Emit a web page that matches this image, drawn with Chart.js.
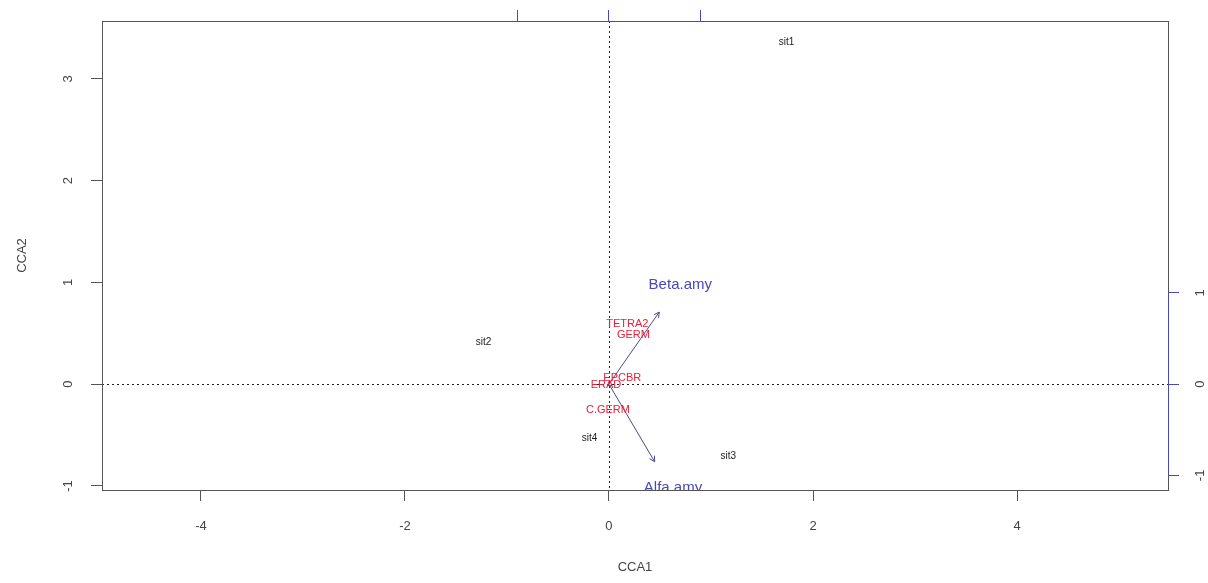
<!DOCTYPE html>
<html lang="en">
<head>
<meta charset="utf-8">
<title>CCA biplot</title>
<script src="https://cdn.jsdelivr.net/npm/chart.js@4.4.1/dist/chart.umd.min.js"></script>
<style>
  html, body { margin: 0; padding: 0; background: #fff; }
</style>
</head>
<body>
<canvas id="chart" width="1208" height="583"></canvas>
<script>
// site scores
const siteNames = ['sit1', 'sit2', 'sit3', 'sit4'];
const siteX = [1.74, -1.23, 1.17, -0.19];
const siteY = [3.36, 0.41, -0.71, -0.53];

// species scores
const speciesNames = ['TETRA2', 'GERM', 'EPCBR', 'ERAD', 'C.GERM'];
const speciesX = [0.18, 0.24, 0.13, -0.03, -0.01];
const speciesY = [0.59, 0.48, 0.06, -0.01, -0.25];

// biplot arrows, on the top / right axes
const envNames = ['Beta.amy', 'Alfa.amy'];
const envX = [0.55, 0.50];
const envY = [0.79, -0.85];
const envLabelX = [0.78, 0.70];
const envLabelY = [1.09, -1.14];

const xTicks = [-4, -2, 0, 2, 4];
const yTicks = [-1, 0, 1, 2, 3];
const arrowTicks = [-1, 0, 1];

const FONT = "'Liberation Sans', Arial, sans-serif";
const BLUE = '#4848bb';

function pts(xs, ys) {
    return xs.map((x, i) => ({ x: x, y: ys[i] }));
}

// fixed axis margins, no extra label padding
function fixSize(prop, size) {
    return s => {
        s[prop] = size;
        s.paddingTop = 0; s.paddingBottom = 0;
        s.paddingLeft = 0; s.paddingRight = 0;
    };
}

const arrowSets = envNames.map((n, i) => ({
    type: 'line',
    label: n,
    data: [{ x: 0, y: 0 }, { x: envX[i], y: envY[i] }],
    xAxisID: 'x2',
    yAxisID: 'y2',
    borderColor: '#4a4a8c',
    borderWidth: 1,
    pointRadius: 0,
    isArrow: true
}));

const biplotPlugin = {
    id: 'biplot',
    beforeDatasetsDraw(chart) {
        const ctx = chart.ctx, a = chart.chartArea;
        const x0 = chart.scales.x.getPixelForValue(0);
        const y0 = chart.scales.y.getPixelForValue(0);
        ctx.save();
        ctx.strokeStyle = '#222';
        ctx.lineWidth = 1;
        ctx.setLineDash([2, 3]);
        ctx.beginPath();
        ctx.moveTo(Math.round(x0) + 0.5, a.top);
        ctx.lineTo(Math.round(x0) + 0.5, a.bottom);
        ctx.moveTo(a.left, Math.round(y0) + 0.5);
        ctx.lineTo(a.right, Math.round(y0) + 0.5);
        ctx.stroke();
        ctx.restore();
    },
    afterDatasetsDraw(chart) {
        const ctx = chart.ctx, a = chart.chartArea;
        ctx.save();
        ctx.beginPath();
        ctx.rect(a.left, a.top, a.right - a.left, a.bottom - a.top);
        ctx.clip();
        ctx.textAlign = 'center';
        ctx.textBaseline = 'middle';
        chart.data.datasets.forEach((ds, i) => {
            const meta = chart.getDatasetMeta(i);
            if (ds.isArrow) {
                const p0 = meta.data[0], p1 = meta.data[1];
                const ang = Math.atan2(p1.y - p0.y, p1.x - p0.x);
                const len = 6;
                ctx.strokeStyle = ds.borderColor;
                ctx.lineWidth = 1;
                ctx.beginPath();
                ctx.moveTo(p1.x - len * Math.cos(ang - 0.5), p1.y - len * Math.sin(ang - 0.5));
                ctx.lineTo(p1.x, p1.y);
                ctx.lineTo(p1.x - len * Math.cos(ang + 0.5), p1.y - len * Math.sin(ang + 0.5));
                ctx.stroke();
            }
            if (ds.names) {
                ctx.fillStyle = ds.textColor;
                ctx.font = ds.textSize + 'px ' + FONT;
                meta.data.forEach((el, j) => ctx.fillText(ds.names[j], el.x, el.y));
            }
        });
        ctx.restore();
    },
    afterDraw(chart) {
        const ctx = chart.ctx, a = chart.chartArea;
        ctx.save();
        ctx.strokeStyle = '#555';
        ctx.lineWidth = 1;
        ctx.strokeRect(Math.round(a.left) + 0.5, Math.round(a.top) + 0.5,
            Math.round(a.right - a.left), Math.round(a.bottom - a.top));
        // partial axis lines of the arrow scales
        const x2 = chart.scales.x2, y2 = chart.scales.y2;
        ctx.strokeStyle = BLUE;
        ctx.beginPath();
        ctx.moveTo(x2.getPixelForValue(arrowTicks[0]), Math.round(a.top) + 0.5);
        ctx.lineTo(x2.getPixelForValue(arrowTicks[arrowTicks.length - 1]), Math.round(a.top) + 0.5);
        ctx.moveTo(Math.round(a.right) + 0.5, y2.getPixelForValue(arrowTicks[0]));
        ctx.lineTo(Math.round(a.right) + 0.5, y2.getPixelForValue(arrowTicks[arrowTicks.length - 1]));
        ctx.stroke();
        ctx.restore();
    }
};

const tickFont = { size: 13, family: FONT };

new Chart(document.getElementById('chart'), {
    type: 'scatter',
    data: {
        datasets: [
            ...arrowSets,
            {
                label: 'sites',
                data: pts(siteX, siteY),
                names: siteNames,
                textColor: '#222',
                textSize: 10,
                pointRadius: 0
            },
            {
                label: 'species',
                data: pts(speciesX, speciesY),
                names: speciesNames,
                textColor: '#e8203a',
                textSize: 11,
                pointRadius: 0
            },
            {
                label: 'env labels',
                data: pts(envLabelX, envLabelY),
                names: envNames,
                textColor: BLUE,
                textSize: 15,
                xAxisID: 'x2',
                yAxisID: 'y2',
                pointRadius: 0
            }
        ]
    },
    options: {
        responsive: false,
        animation: false,
        events: [],
        layout: { padding: 0 },
        plugins: { legend: { display: false }, tooltip: { enabled: false } },
        scales: {
            x: {
                type: 'linear', position: 'bottom', min: -4.97, max: 5.48,
                afterBuildTicks: s => { s.ticks = xTicks.map(v => ({ value: v })); },
                afterFit: fixSize('height', 93),
                border: { display: false },
                grid: { drawOnChartArea: false, tickLength: 11, tickColor: '#555' },
                ticks: { padding: 18, color: '#444', font: tickFont, maxRotation: 0, autoSkip: false },
                title: { display: true, text: 'CCA1', color: '#444', font: tickFont, padding: { top: 0, bottom: 8 } }
            },
            y: {
                type: 'linear', position: 'left', min: -1.04, max: 3.57,
                afterBuildTicks: s => { s.ticks = yTicks.map(v => ({ value: v })); },
                afterFit: fixSize('width', 102),
                border: { display: false },
                grid: { drawOnChartArea: false, tickLength: 11, tickColor: '#555' },
                ticks: { padding: 17, color: '#444', font: tickFont, minRotation: 90, maxRotation: 90, crossAlign: 'center', autoSkip: false },
                title: { display: true, text: 'CCA2', color: '#444', font: tickFont, padding: { top: 15, bottom: 0 } }
            },
            x2: {
                type: 'linear', position: 'top', min: -5.54, max: 6.11,
                afterBuildTicks: s => { s.ticks = arrowTicks.map(v => ({ value: v })); },
                afterFit: fixSize('height', 21),
                border: { display: false },
                grid: { drawOnChartArea: false, tickLength: 11, tickColor: BLUE },
                ticks: { display: false }
            },
            y2: {
                type: 'linear', position: 'right', min: -1.16, max: 3.98,
                afterBuildTicks: s => { s.ticks = arrowTicks.map(v => ({ value: v })); },
                afterFit: fixSize('width', 40),
                border: { display: false },
                grid: { drawOnChartArea: false, tickLength: 11, tickColor: BLUE },
                ticks: { padding: 16, color: '#444', font: tickFont, minRotation: 90, maxRotation: 90, crossAlign: 'center', autoSkip: false }
            }
        }
    },
    plugins: [biplotPlugin]
});
</script>
</body>
</html>
